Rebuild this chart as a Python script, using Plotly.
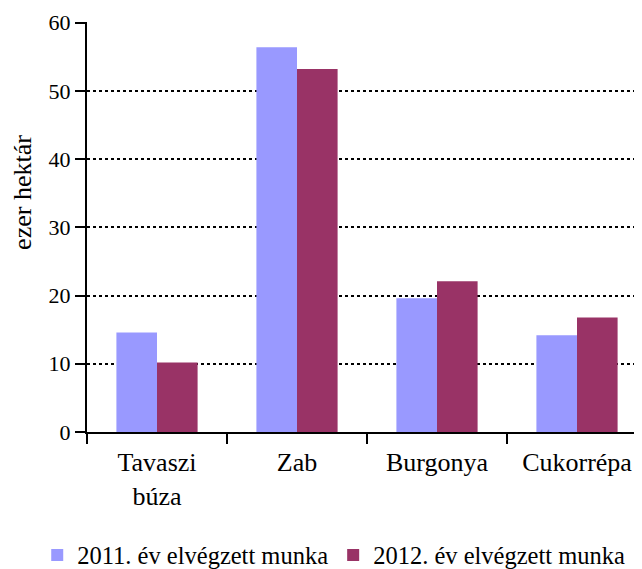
import plotly.graph_objs as go

# chart data
categories = ['Tavaszi<br>búza', 'Zab', 'Burgonya', 'Cukorrépa']
values_2011 = [14.6, 56.4, 19.6, 14.2]
values_2012 = [10.2, 53.2, 22.1, 16.8]
series_names = ['2011. év elvégzett munka', '2012. év elvégzett munka']
y_ticks = [0, 10, 20, 30, 40, 50, 60]
y_title = 'ezer hektár'

serif = '"Liberation Serif", Tinos, "Times New Roman", serif'

trace_2011 = go.Bar(
    x=categories,
    y=values_2011,
    name=series_names[0],
    marker=dict(color='#9999FF', line=dict(width=0))
)

trace_2012 = go.Bar(
    x=categories,
    y=values_2012,
    name=series_names[1],
    marker=dict(color='#993366', line=dict(width=0))
)

# page body adds an 8px margin, so the figure is a bit smaller than the window
layout = go.Layout(
    width=634,
    height=561,
    paper_bgcolor='white',
    plot_bgcolor='white',
    barmode='group',
    bargap=0.42,
    bargroupgap=0,
    font=dict(family=serif, color='black', size=20),
    margin=dict(l=79, r=2, t=14, b=137, autoexpand=False),
    xaxis=dict(
        range=[-0.5, 3.45],
        automargin=False,
        showgrid=False,
        showline=True,
        linecolor='black',
        linewidth=2,
        ticks='outside',
        tickson='boundaries',
        ticklen=10,
        tickwidth=2,
        tickcolor='black',
        ticklabelstandoff=6,
        tickfont=dict(family=serif, size=26),
        fixedrange=True
    ),
    yaxis=dict(
        range=[0, 60.1],
        automargin=False,
        tickvals=y_ticks,
        showgrid=True,
        gridcolor='black',
        gridwidth=2,
        griddash='dot',
        zeroline=False,
        showline=True,
        linecolor='black',
        linewidth=2,
        ticks='outside',
        ticklen=10,
        tickwidth=2,
        tickcolor='black',
        tickfont=dict(family=serif, size=22),
        fixedrange=True
    ),
    # axis title sits above the middle of the axis, so it is an annotation
    annotations=[dict(
        text=y_title,
        xref='paper', yref='paper',
        x=-0.118, y=0.585,
        xanchor='center', yanchor='middle',
        textangle=-90,
        showarrow=False,
        font=dict(family=serif, size=26)
    )],
    legend=dict(
        orientation='h',
        x=-0.09,
        xanchor='left',
        y=-0.3,
        yanchor='middle',
        font=dict(family=serif, size=24.5),
        itemwidth=30,
        tracegroupgap=0
    ),
    showlegend=True
)

fig = go.Figure(data=[trace_2011, trace_2012], layout=layout)
fig.write_html("out.html")
